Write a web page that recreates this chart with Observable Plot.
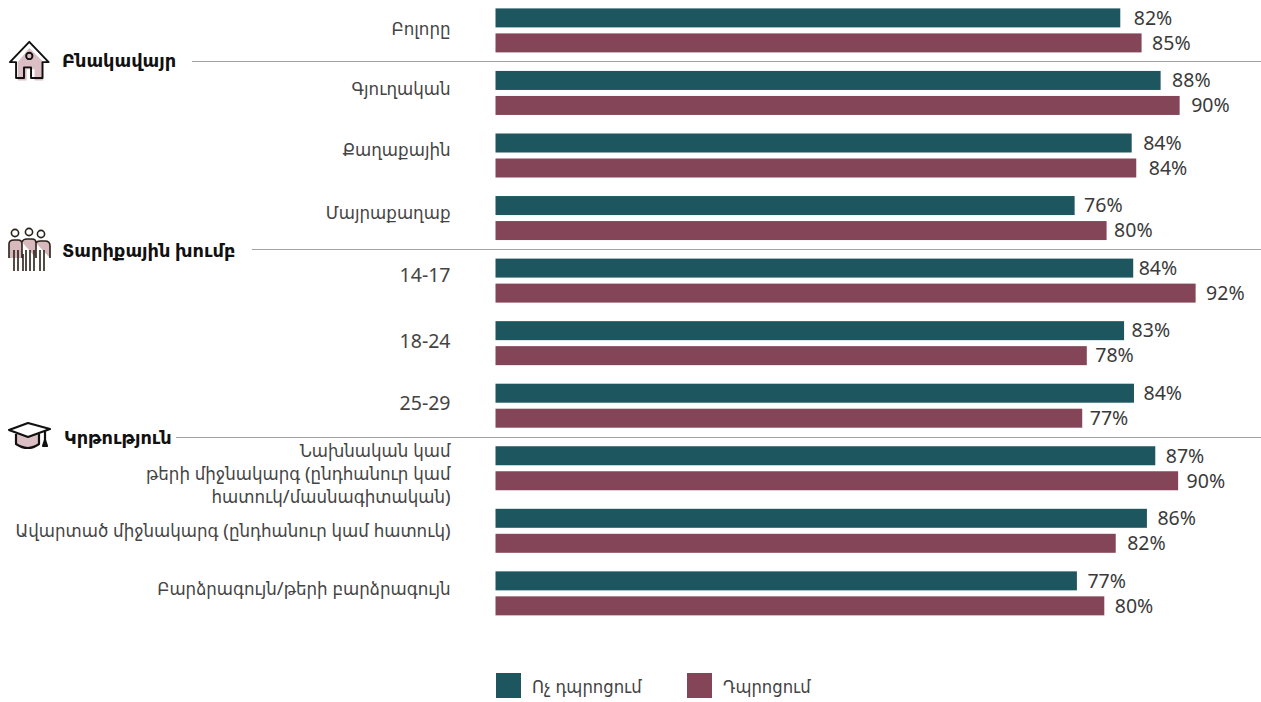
<!DOCTYPE html>
<html lang="hy">
<head>
<meta charset="utf-8">
<script src="https://cdn.jsdelivr.net/npm/d3@7"></script>
<script src="https://cdn.jsdelivr.net/npm/@observablehq/plot@0.6"></script>
<style>
html,body{margin:0;padding:0;background:#fff;overflow:hidden}
#root{position:relative;width:1261px;height:702px;font-family:"Noto Sans","DejaVu Sans Condensed","DejaVu Sans",sans-serif;color:#333}
#root svg.plot{display:block}
.sec{position:absolute;left:0;height:0}
.sec .t{position:absolute;white-space:nowrap;font-size:17.8px;font-weight:600;color:#111;line-height:20px;font-family:"Noto Sans","DejaVu Sans",sans-serif}
.sec .l{position:absolute;right:0;height:1px;background:#a3a3a0}
.sec svg{position:absolute;overflow:visible}
.leg{position:absolute;top:672.5px;width:25px;height:25px}
.legt{position:absolute;top:672.5px;line-height:25px;font-size:18.3px;white-space:nowrap;color:#444}
</style>
</head>
<body>
<div id="root"></div>
<script>
const categories = ["Բոլորը","Գյուղական","Քաղաքային","Մայրաքաղաք","14-17","18-24","25-29",
  "Նախնական կամ\nթերի միջնակարգ (ընդհանուր կամ\nհատուկ/մասնագիտական)",
  "Ավարտած միջնակարգ (ընդհանուր կամ հատուկ)","Բարձրագույն/թերի բարձրագույն"];
const series = ["Ոչ դպրոցում","Դպրոցում"];
const notInSchool = [82.1,87.4,83.6,76.1,83.8,82.6,83.9,86.7,85.6,76.4];
const inSchool = [84.9,89.9,84.2,80.3,92.0,77.7,77.1,89.7,81.5,80.0];
const notInSchoolLabels = [82,88,84,76,84,83,84,87,86,77];
const inSchoolLabels = [85,90,84,80,92,78,77,90,82,80];
const colors = ["#1e5660","#844559"];
const sections = ["Բնակավայր","Տարիքային խումբ","Կրթություն"];

// layout-only values
const pxPerUnit = 7.61, zeroPx = 495.5;
const gapNot = [13,11,11,9,5,7,9,10,10,10], gapIn = [10,11,12,7,10,8,7,8,11,10];
const labelNudge = [-3,-6,-7,-7,-7,-3,-4,4,-2,-6];
const fam = '"Noto Sans","DejaVu Sans Condensed","DejaVu Sans",sans-serif';

const rows = categories.flatMap((c,i)=>[
  {cat:c,s:series[0],v:notInSchool[i],lab:notInSchoolLabels[i],gap:gapNot[i]},
  {cat:c,s:series[1],v:inSchool[i],lab:inSchoolLabels[i],gap:gapIn[i]}
]);

const chart = Plot.plot({
  width:1261,height:640,marginTop:8.4,marginBottom:6.1,marginLeft:0,marginRight:0,
  style:{fontFamily:fam,background:"transparent",overflow:"visible"},
  x:{domain:[-zeroPx/pxPerUnit,(1261-zeroPx)/pxPerUnit],axis:null},
  y:{domain:series,axis:null,align:0,paddingInner:0.24,paddingOuter:0.371,round:false,label:null},
  fy:{domain:categories,axis:null,paddingInner:0,paddingOuter:0,round:false,label:null},
  color:{domain:series,range:colors},
  marks:[
    Plot.barX(rows,{x:"v",y:"s",fy:"cat",fill:"s"}),
    Plot.text(rows,{x:d=>d.v+d.gap/pxPerUnit,y:"s",fy:"cat",text:d=>d.lab+"%",textAnchor:"start",fontSize:19.5,fill:"#3a3a3a"}),
    ...categories.map((c,i)=>Plot.text([c],{
      x:()=>-45.5/pxPerUnit,y:()=>series[0],fy:d=>d,text:d=>d,textAnchor:"end",lineAnchor:"middle",
      fontSize:/^[0-9]/.test(c)?19.5:18.5,fill:"#444",lineHeight:1.25,dy:12.5+labelNudge[i]
    }))
  ]
});
const root=document.getElementById("root");
root.appendChild(chart);

const icons=[
 `<g transform="translate(3,2) scale(.88)"><path d="M18 24 L31 8 L47 24 V45 H37 V32 H28 V45 H18Z" fill="#dcbfc5"/><g stroke="#111" stroke-width="2.2" stroke-linejoin="round"><path d="M16 24 V42 H25 V30 H33 V42 H46 V24 H53 L31 1 L9 24Z" fill="none"/><circle cx="31" cy="17" r="3.6" fill="none"/></g></g>`,
 `<g stroke="#2a2118" stroke-width="1.6" fill="#d6b8bd"><circle cx="16" cy="5" r="3.6" fill="none"/><circle cx="30" cy="4" r="3.6" fill="none"/><circle cx="42" cy="6" r="3.6" fill="none"/><path d="M10 30 V16 Q10 12 15 12 H19 Q23 12 23 16 V30 M23 14 Q24 11 28 11 H33 Q37 11 37 15 V30 M37 15 Q38 13 41 13 H46 Q51 13 51 18 V30"/><path d="M15 22V43M19 22V43M27 22V43M31 22V43M35 22V43M41 22V43M45 22V43M24 26V43" fill="none"/></g>`,
 `<g stroke="#111" stroke-width="2.2" stroke-linejoin="round"><path d="M17 13 V23 Q29 31 40 23 V13" fill="#dcbfc5"/><path d="M10 9 L29 2 L51 8 L29 16Z" fill="#fff"/><path d="M46 10V20" fill="none"/><path d="M44 25 L46 19 L48 25Z" fill="#111"/></g>`
];
const layout=[
 {y:61,ty:-11,tx:62,ly:192,ix:-1,iy:39},
 {y:249,ty:-9,tx:62,ly:252,ix:-1,iy:228},
 {y:437,ty:-10,tx:64,ly:176,ix:-1,iy:421}
];
layout.forEach((s,i)=>{
  const d=document.createElement("div");d.className="sec";d.style.top=s.y+"px";d.style.width="1261px";
  d.innerHTML=`<svg style="left:${s.ix}px;top:${s.iy-s.y}px" width="60" height="44">${icons[i]}</svg>`+
   `<div class="t" style="left:${s.tx}px;top:${s.ty}px">${sections[i]}</div>`+
   `<div class="l" style="left:${s.ly}px;top:0"></div>`;
  root.appendChild(d);
});
[[496,532],[687,723]].forEach(([a,b],i)=>{
  const k=document.createElement("div");k.className="leg";k.style.left=a+"px";k.style.background=colors[i];root.appendChild(k);
  const t=document.createElement("div");t.className="legt";t.style.left=b+"px";t.textContent=series[i];root.appendChild(t);
});
</script>
</body>
</html>
